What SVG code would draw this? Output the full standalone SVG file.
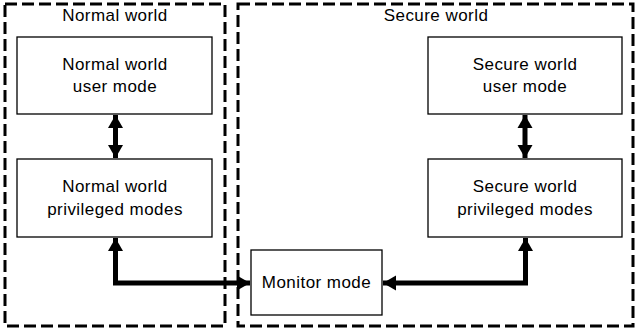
<svg xmlns="http://www.w3.org/2000/svg" width="641" height="333" viewBox="0 0 641 333">
<style>
.world{fill:none;stroke:#000;stroke-width:3;stroke-dasharray:12 5}
.box{fill:#fff;stroke:#000;stroke-width:1.3}
.t{font-family:"Liberation Sans",Arial,sans-serif;font-size:17px;letter-spacing:0.45px;text-anchor:middle;fill:#000}
.c{fill:none;stroke:#000;stroke-width:5}
</style>
<defs>
<marker id="ah" markerUnits="userSpaceOnUse" markerWidth="16" markerHeight="16" viewBox="0 0 16 16" refX="14" refY="8" orient="auto-start-reverse">
<path d="M1,0.5 L14,8 L1,15.5 Z" fill="#000"/>
</marker>
</defs>
<rect fill="#fff" width="641" height="333"/>
<g id="normal-world">
<rect class="world" x="5" y="4" width="220" height="322"/>
<text class="t" x="115" y="21">Normal world</text>
</g>
<g id="secure-world">
<rect class="world" x="238" y="4" width="395" height="322"/>
<text class="t" x="436" y="21">Secure world</text>
</g>
<g id="normal-user">
<rect class="box" x="17" y="37" width="195" height="77"/>
<text class="t" x="115" y="70">Normal world</text>
<text class="t" x="115" y="92">user mode</text>
</g>
<g id="normal-priv">
<rect class="box" x="17" y="159" width="195" height="78"/>
<text class="t" x="115" y="192">Normal world</text>
<text class="t" x="115" y="215">privileged modes</text>
</g>
<g id="secure-user">
<rect class="box" x="428" y="37" width="194" height="77"/>
<text class="t" x="525" y="70">Secure world</text>
<text class="t" x="525" y="92">user mode</text>
</g>
<g id="secure-priv">
<rect class="box" x="428" y="159" width="194" height="78"/>
<text class="t" x="525" y="192">Secure world</text>
<text class="t" x="525" y="215">privileged modes</text>
</g>
<g id="monitor">
<rect class="box" x="251" y="250" width="131" height="65"/>
<text class="t" x="316.5" y="288">Monitor mode</text>
</g>
<g id="connectors">
<path class="c" d="M115.5,115 V158" marker-start="url(#ah)" marker-end="url(#ah)"/>
<path class="c" d="M525,115 V158" marker-start="url(#ah)" marker-end="url(#ah)"/>
<path class="c" d="M115.5,238 V283 H250" marker-start="url(#ah)" marker-end="url(#ah)"/>
<path class="c" d="M383,283 H525.5 V238" marker-start="url(#ah)" marker-end="url(#ah)"/>
</g>
</svg>
